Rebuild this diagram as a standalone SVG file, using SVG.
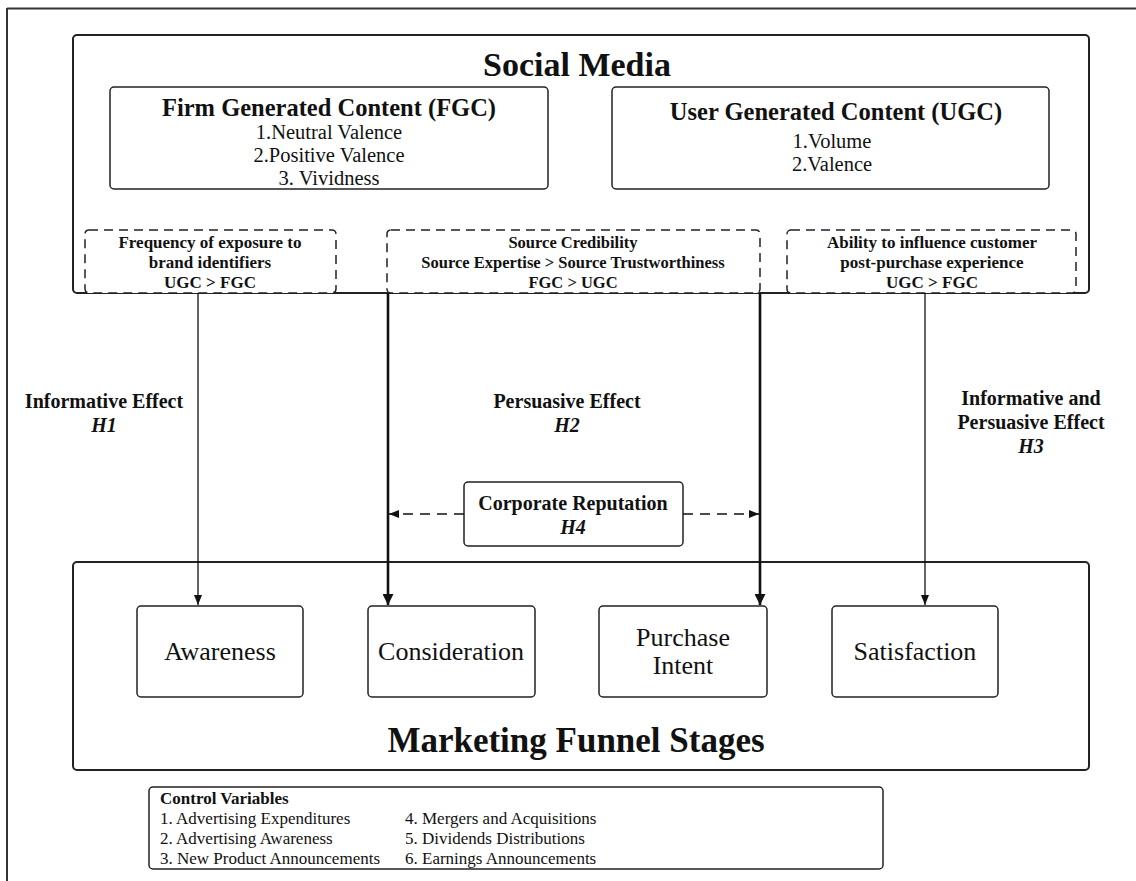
<svg xmlns="http://www.w3.org/2000/svg" width="1136" height="881" viewBox="0 0 1136 881">
<style>
text{font-family:"Liberation Serif","Times New Roman",serif;fill:#111;}
.box{fill:#fff;stroke:#222;stroke-width:2;}
.sbox{fill:#fff;stroke:#222;stroke-width:1.5;}
.dbox{fill:#fff;stroke:#222;stroke-width:1.5;stroke-dasharray:9 6;}
.c{text-anchor:middle;}
.b{font-weight:bold;}
.bi{font-weight:bold;font-style:italic;}
.thin{stroke:#111;stroke-width:1.3;fill:none;}
.thick{stroke:#111;stroke-width:2.6;fill:none;}
.dash{stroke:#111;stroke-width:1.5;fill:none;stroke-dasharray:10 7;}
</style>
<defs>
<marker id="ah" viewBox="0 0 10 10" refX="10" refY="5" markerWidth="10" markerHeight="10" markerUnits="userSpaceOnUse" orient="auto"><path d="M0,1 L10,5 L0,9 z" fill="#111"/></marker>
<marker id="ahk" viewBox="0 0 10 10" refX="10" refY="5" markerWidth="14" markerHeight="11" markerUnits="userSpaceOnUse" orient="auto"><path d="M0,0 L10,5 L0,10 z" fill="#111"/></marker>
</defs>

<g id="frame">
<line x1="7" y1="8.5" x2="1136" y2="8.5" stroke="#333" stroke-width="2"/>
<line x1="7" y1="8" x2="7" y2="881" stroke="#333" stroke-width="2"/>
</g>

<g id="social-media">
<rect class="box" x="73" y="35" width="1016" height="258" rx="4"/>
<text class="c b" x="577" y="76" font-size="34">Social Media</text>
</g>

<g id="fgc">
<rect class="sbox" x="110" y="87" width="438" height="102" rx="4"/>
<text class="c b" x="329" y="116" font-size="24.5">Firm Generated Content (FGC)</text>
<text class="c" x="329" y="139" font-size="20.5">1.Neutral Valence</text>
<text class="c" x="329" y="162" font-size="20.5">2.Positive Valence</text>
<text class="c" x="329" y="185" font-size="20.5">3. Vividness</text>
</g>

<g id="ugc">
<rect class="sbox" x="612" y="87" width="437" height="102" rx="4"/>
<text class="c b" x="836" y="120" font-size="24.5">User Generated Content (UGC)</text>
<text class="c" x="832" y="148" font-size="20.5">1.Volume</text>
<text class="c" x="832" y="171" font-size="20.5">2.Valence</text>
</g>

<g id="frequency">
<rect class="dbox" x="85" y="230" width="251" height="63" rx="4"/>
<text class="c b" x="210" y="248" font-size="17">Frequency of exposure to</text>
<text class="c b" x="210" y="268" font-size="17">brand identifiers</text>
<text class="c b" x="210" y="288" font-size="17">UGC &gt; FGC</text>
</g>

<g id="credibility">
<rect class="dbox" x="387" y="230" width="373" height="63" rx="4"/>
<text class="c b" x="573" y="248" font-size="16.5">Source Credibility</text>
<text class="c b" x="573" y="268" font-size="16.5">Source Expertise &gt; Source Trustworthiness</text>
<text class="c b" x="573" y="288" font-size="16.5">FGC &gt; UGC</text>
</g>

<g id="ability">
<rect class="dbox" x="787" y="230" width="289" height="63" rx="4"/>
<text class="c b" x="932" y="248" font-size="17">Ability to influence customer</text>
<text class="c b" x="932" y="268" font-size="17">post-purchase experience</text>
<text class="c b" x="932" y="288" font-size="17">UGC &gt; FGC</text>
</g>

<g id="effect-labels">
<text class="c b" x="104" y="408" font-size="20">Informative Effect</text>
<text class="c bi" x="104" y="432" font-size="20">H1</text>
<text class="c b" x="567" y="408" font-size="20">Persuasive Effect</text>
<text class="c bi" x="567" y="432" font-size="20">H2</text>
<text class="c b" x="1031" y="405" font-size="20">Informative and</text>
<text class="c b" x="1031" y="429" font-size="20">Persuasive Effect</text>
<text class="c bi" x="1031" y="453" font-size="20">H3</text>
</g>

<g id="funnel">
<rect class="box" x="73" y="562" width="1016" height="208" rx="4"/>
<text class="c b" x="576" y="752" font-size="35">Marketing Funnel Stages</text>
</g>

<g id="awareness">
<rect class="sbox" x="137" y="606" width="166" height="91" rx="4"/>
<text class="c" x="220" y="660" font-size="26">Awareness</text>
</g>
<g id="consideration">
<rect class="sbox" x="368" y="606" width="167" height="91" rx="4"/>
<text class="c" x="451" y="660" font-size="26">Consideration</text>
</g>
<g id="purchase-intent">
<rect class="sbox" x="599" y="606" width="168" height="91" rx="4"/>
<text class="c" x="683" y="646" font-size="26">Purchase</text>
<text class="c" x="683" y="674" font-size="26">Intent</text>
</g>
<g id="satisfaction">
<rect class="sbox" x="832" y="606" width="166" height="91" rx="4"/>
<text class="c" x="915" y="660" font-size="26">Satisfaction</text>
</g>

<g id="corporate-reputation">
<rect class="sbox" x="464" y="482" width="219" height="64" rx="4"/>
<text class="c b" x="573" y="510" font-size="20">Corporate Reputation</text>
<text class="c bi" x="573" y="534" font-size="20">H4</text>
</g>

<g id="connectors">
<line class="thin" x1="198" y1="293" x2="198" y2="605" marker-end="url(#ah)"/>
<line class="thick" x1="388" y1="293" x2="388" y2="605" marker-end="url(#ahk)"/>
<line class="thick" x1="760" y1="293" x2="760" y2="605" marker-end="url(#ahk)"/>
<line class="thin" x1="925" y1="293" x2="925" y2="605" marker-end="url(#ah)"/>
<line class="dash" x1="464" y1="514" x2="389" y2="514" marker-end="url(#ah)"/>
<line class="dash" x1="683" y1="514" x2="759" y2="514" marker-end="url(#ah)"/>
</g>

<g id="control-variables">
<rect class="sbox" x="149" y="787" width="734" height="82" rx="4"/>
<text class="b" x="160" y="804" font-size="17">Control Variables</text>
<text x="160" y="824" font-size="17">1. Advertising Expenditures</text>
<text x="160" y="844" font-size="17">2. Advertising Awareness</text>
<text x="160" y="864" font-size="17">3. New Product Announcements</text>
<text x="405" y="824" font-size="17">4. Mergers and Acquisitions</text>
<text x="405" y="844" font-size="17">5. Dividends Distributions</text>
<text x="405" y="864" font-size="17">6. Earnings Announcements</text>
</g>
</svg>
